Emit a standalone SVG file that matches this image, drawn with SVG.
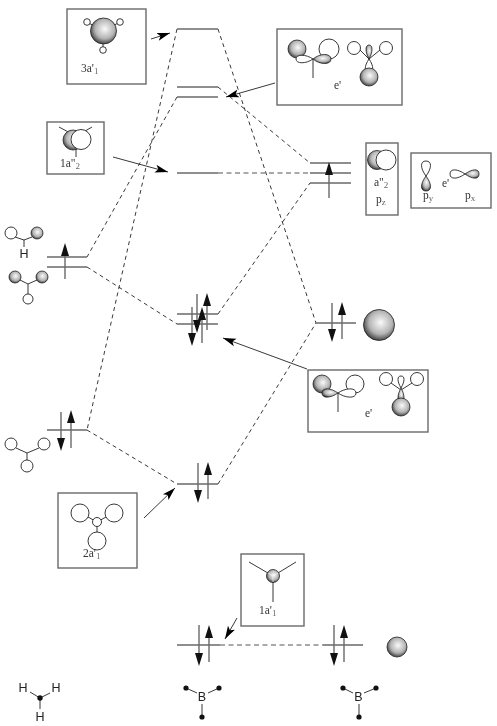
<svg xmlns="http://www.w3.org/2000/svg" width="497" height="726" viewBox="0 0 497 726">
<style>
text{font-family:"Liberation Serif","Times New Roman",serif;font-size:11.5px;fill:#333;filter:url(#n)}
.sans{font-family:"Liberation Sans",Arial,sans-serif;font-size:12.5px;text-anchor:middle;fill:#222}
.box{fill:#fff;stroke:#6a6a6a;stroke-width:1.4}
.lvl{fill:none;stroke:#6a6a6a;stroke-width:1.4}
.dash{fill:none;stroke:#222;stroke-width:.9;stroke-dasharray:4 3.5}
.dashg{fill:none;stroke:#555;stroke-width:1.1;stroke-dasharray:5 3.5}
.call{stroke:#222;stroke-width:.9;marker-end:url(#ch)}
.w{fill:#fff;stroke:#222;stroke-width:.9}
.s{fill:url(#g);stroke:#222;stroke-width:.8}
.b{fill:none;stroke:#222;stroke-width:.9}
.d{fill:#111}
.sub{font-size:9px;fill:#666}
</style>
<defs>
<filter id="n" x="-20%" y="-20%" width="140%" height="140%"><feOffset dx="0" dy="0"/></filter>
<radialGradient id="g" cx=".55" cy=".42" r=".62"><stop offset="0" stop-color="#fafafa"/><stop offset=".6" stop-color="#b4b4b4"/><stop offset="1" stop-color="#303030"/></radialGradient>
<marker id="ch" markerUnits="userSpaceOnUse" markerWidth="14" markerHeight="10" refX="13" refY="4" orient="auto" viewBox="0 0 14 8"><path d="M0 0 L13 4 L0 8 L3 4 Z" fill="#000"/></marker>
</defs>
<g id="connectors">
<path class="dash" d="M177 29 L87 430"/>
<path class="dash" d="M218 29 L316 323"/>
<path class="dash" d="M177 97 L87 257"/>
<path class="dash" d="M218 87 L310 163"/>
<path class="dashg" d="M218 173 L310 173"/>
<path class="dash" d="M87 267 L177 324"/>
<path class="dash" d="M218 314 L310 183"/>
<path class="dash" d="M87 430 L177 484"/>
<path class="dash" d="M218 484 L316 323"/>
<path class="dashg" d="M220 645 L323 645"/>
<path class="call" d="M151 39 L170 33"/>
<path class="call" d="M275 83 L226 97"/>
<path class="call" d="M113 157 L168 172"/>
<path class="call" d="M307 369 L223 338"/>
<path class="call" d="M144 518 L175 488"/>
<path class="call" d="M237 618 L225 639"/>
</g>
<g id="level-3a1"><path class="lvl" d="M177 29H218"/></g>
<g id="level-e-upper"><path class="lvl" d="M177 87H218M177 97H218"/></g>
<g id="level-1a2"><path class="lvl" d="M177 173H218"/></g>
<g id="level-h3-e"><path class="lvl" d="M47 257H87M47 267H87M65 279V250"/><path class="d" d="M65 243l-4 13h8z"/></g>
<g id="level-b-e"><path class="lvl" d="M310 163H351M310 173H351M310 183H351M329 198V170"/><path class="d" d="M329 162l-4 13h8z"/></g>
<g id="level-mid-e"><path class="lvl" d="M177 314H218M177 324H218M207 330V300M202 343V314M197 294V323M192 307V335"/><path class="d" d="M207 293l-4 13h8zM202 307l-4 13h8zM197 333l-4 -13h8zM192 346l-4 -13h8z"/></g>
<g id="level-h3-a"><path class="lvl" d="M47 430H87M61 412V440M71 448V418"/><path class="d" d="M61 451l-4 -13h8zM71 410l-4 13h8z"/></g>
<g id="level-mid-a"><path class="lvl" d="M177 484H218M198 463V492M208 499V470"/><path class="d" d="M198 503l-4 -13h8zM208 462l-4 13h8z"/></g>
<g id="level-b-a"><path class="lvl" d="M316 323H356M332 303V332M342 339V310"/><path class="d" d="M332 342l-4 -13h8zM342 302l-4 13h8z"/><circle class="s" cx="379" cy="325" r="15.5"/></g>
<g id="level-low-left"><path class="lvl" d="M177 645H220M199 625V655M209 662V633"/><path class="d" d="M199 666l-4 -13h8zM209 625l-4 13h8z"/></g>
<g id="level-low-right"><path class="lvl" d="M323 645H363M334 625V655M344 662V633"/><path class="d" d="M334 666l-4 -13h8zM344 625l-4 13h8z"/><circle class="s" cx="397" cy="647" r="10"/></g>
<g id="box-3a1">
<rect class="box" x="67" y="9" width="79" height="75"/>
<path class="b" d="M87 22L103 31M120 22L103 31M103 31V50"/>
<circle class="w" cx="87" cy="22" r="3.3"/><circle class="w" cx="120" cy="22" r="3.3"/><circle class="w" cx="103" cy="50" r="3.3"/>
<circle class="s" cx="103.500" cy="31" r="13"/>
<text x="81" y="72">3a'<tspan class="sub" dy="2">1</tspan></text>
</g>
<g id="box-e-upper">
<rect class="box" x="277" y="29" width="125" height="76"/>
<circle class="w" cx="329" cy="49" r="10"/>
<circle class="s" cx="297" cy="49" r="9"/>
<path class="w" d="M313 59C306 54 296 54 296 59C296 64 306 64 313 59Z"/>
<path class="s" d="M313 59C320 53 331 53 331 59C331 65 320 65 313 59Z"/>
<path class="b" d="M313 59V78"/>
<circle class="w" cx="354" cy="48" r="6.500"/><circle class="w" cx="386" cy="48" r="6.500"/>
<path class="b" d="M360 50L369 59L380 50"/>
<path class="w" d="M369 59C364 66 364 73 369 73C374 73 374 66 369 59Z"/>
<path class="s" d="M369 59C365 52 365 45 369 45C373 45 373 52 369 59Z"/>
<circle class="s" cx="369" cy="77" r="9"/>
<text x="334" y="89">e'</text>
</g>
<g id="box-a2">
<rect class="box" x="366" y="143" width="32" height="72"/>
<circle class="s" cx="377" cy="160" r="9.500"/>
<circle class="w" cx="386" cy="160" r="10"/>
<text x="374" y="186">a"<tspan class="sub" dy="2">2</tspan></text>
<text x="376" y="203">p<tspan class="sub" dy="2">z</tspan></text>
</g>
<g id="box-p">
<rect class="box" x="411" y="153" width="80" height="55"/>
<path class="w" d="M426 176C420 168 420 161 426 161C432 161 432 168 426 176Z"/>
<path class="s" d="M426 176C420 184 420 191 426 191C432 191 432 184 426 176Z"/>
<path class="w" d="M465 174C458 169 450 168 450 174C450 180 458 179 465 174Z"/>
<path class="s" d="M465 174C472 169 479 168 479 174C479 180 472 179 465 174Z"/>
<text x="442" y="187">e'</text>
<text x="423" y="199">p<tspan class="sub" dy="2">y</tspan></text>
<text x="465" y="199">p<tspan class="sub" dy="2">x</tspan></text>
</g>
<g id="box-1a2">
<rect class="box" x="47" y="122" width="57" height="52"/>
<path class="b" d="M59 127L72 134M92 127L80 134M76 149V157"/>
<circle class="s" cx="73" cy="140" r="10"/>
<circle class="w" cx="81" cy="139.500" r="10"/>
<text x="60" y="167">1a"<tspan class="sub" dy="2">2</tspan></text>
</g>
<g id="box-e-lower">
<rect class="box" x="308" y="370" width="120" height="62"/>
<circle class="w" cx="355" cy="384" r="9"/>
<circle class="s" cx="322" cy="384" r="9"/>
<path class="s" d="M338 393C331 388 322 387 322 393C322 399 331 398 338 393Z"/>
<path class="w" d="M338 393C345 388 356 387 356 393C356 399 345 398 338 393Z"/>
<path class="b" d="M338 393V412"/>
<circle class="w" cx="386" cy="379" r="6.500"/><circle class="w" cx="417" cy="379" r="6.500"/>
<path class="b" d="M391 383L401 390L412 383"/>
<path class="w" d="M401 388C397 381 397 376 401 376C405 376 405 381 401 388Z"/>
<path class="s" d="M401 388C397 395 397 402 401 402C405 402 405 395 401 388Z"/>
<circle class="s" cx="401" cy="407" r="9"/>
<text x="365" y="417">e'</text>
</g>
<g id="box-2a1">
<rect class="box" x="58" y="493" width="79" height="75"/>
<path class="b" d="M88 517L97 522L106 517M97 522V532"/>
<circle class="w" cx="80" cy="513" r="9"/><circle class="w" cx="114" cy="513" r="9"/>
<circle class="w" cx="97" cy="522" r="4.500"/><circle class="w" cx="97" cy="541" r="9"/>
<text x="83" y="557">2a'<tspan class="sub" dy="2">1</tspan></text>
</g>
<g id="box-1a1">
<rect class="box" x="241" y="554" width="63" height="72"/>
<path class="b" d="M249 562L273 576L296 562M273 576V602"/>
<circle class="s" cx="273" cy="576" r="6.500"/>
<path d="M268 573L273 576L278 573M273 576V582" fill="none" stroke="#fff" stroke-width=".6"/>
<text x="259" y="614">1a'<tspan class="sub" dy="2">1</tspan></text>
</g>
<g id="frag-h3-a">
<path class="b" d="M15 237L24 240L32 237M24 240V247"/>
<circle class="w" cx="11" cy="233" r="6"/>
<circle class="s" cx="37" cy="233" r="6"/>
<text class="sans" x="24" y="258">H</text>
</g>
<g id="frag-h3-b">
<path class="b" d="M20 280L28 284L37 280M28 284V294"/>
<circle class="s" cx="15" cy="277" r="6"/><circle class="s" cx="42" cy="277" r="6"/>
<circle class="w" cx="28" cy="299" r="5"/>
</g>
<g id="frag-h3-c">
<path class="b" d="M16 448L27 453L39 448M27 453V460"/>
<circle class="w" cx="11" cy="444" r="6"/><circle class="w" cx="44" cy="444" r="6"/><circle class="w" cx="27" cy="466" r="6"/>
</g>
<g id="mol-h3">
<path class="b" d="M30 692L40 698L50 693M40 698V709"/>
<circle class="d" cx="40" cy="698" r="2.700"/>
<text class="sans" x="23" y="692">H</text><text class="sans" x="56" y="692">H</text><text class="sans" x="40" y="721">H</text>
</g>
<g id="mol-b-left">
<path class="b" d="M186 688L197 693M219 688L208 693M202 704V717"/>
<circle class="d" cx="186" cy="688" r="2.600"/><circle class="d" cx="219" cy="688" r="2.600"/><circle class="d" cx="202" cy="717" r="2.600"/>
<text class="sans" x="202" y="701">B</text>
</g>
<g id="mol-b-right">
<path class="b" d="M343 688L353 693M376 688L364 693M359 704V717"/>
<circle class="d" cx="343" cy="688" r="2.600"/><circle class="d" cx="376" cy="688" r="2.600"/><circle class="d" cx="359" cy="717" r="2.600"/>
<text class="sans" x="358.500" y="701">B</text>
</g>
</svg>
